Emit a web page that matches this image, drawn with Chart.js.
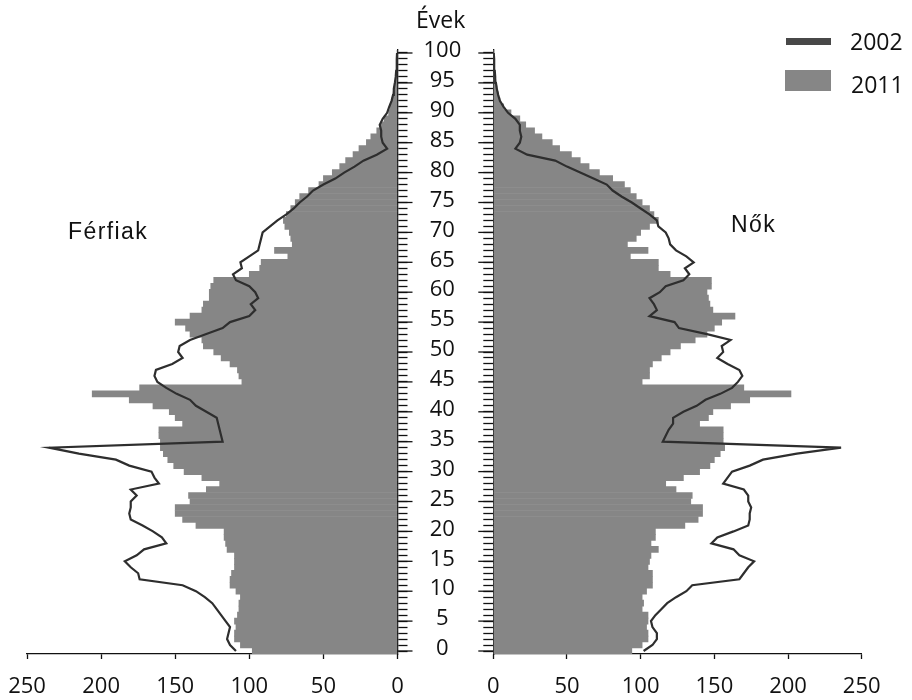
<!DOCTYPE html>
<html>
<head>
<meta charset="utf-8">
<script src="https://cdn.jsdelivr.net/npm/chart.js@4.4.0/dist/chart.umd.min.js"></script>
<style>
  body { margin: 0; background: #fff; }
  #wrap { position: relative; width: 912px; height: 700px; font-family: 'Open Sans', sans-serif; color: #111; }
  canvas { position: absolute; left: 0; top: 0; }
  .txt { position: absolute; font-size: 23px; line-height: 1; white-space: nowrap; }
  .sans { font-family: 'Liberation Sans', Arial, sans-serif; letter-spacing: 1.4px; }
</style>
</head>
<body>
<div id="wrap">
  <canvas id="men" width="912" height="700" style="width:912px;height:700px"></canvas>
  <canvas id="women" width="912" height="700" style="width:912px;height:700px"></canvas>
  <div class="txt" style="left:416px; top:8px;">Évek</div>
  <div class="txt sans" style="left:68px; top:220px;">Férfiak</div>
  <div class="txt sans" style="left:731px; top:213px;">Nők</div>
  <div style="position:absolute; left:786px; top:38px; width:45px; height:7px; background:#484848;"></div>
  <div class="txt" style="left:850px; top:30px;">2002</div>
  <div style="position:absolute; left:785px; top:70px; width:46px; height:21px; background:#868686;"></div>
  <div class="txt" style="left:851px; top:73px;">2011</div>
</div>
<script>
// age groups, bottom to top
const ages = Array.from({ length: 101 }, (_, i) => i);
const ageTicks = [0, 5, 10, 15, 20, 25, 30, 35, 40, 45, 50, 55, 60, 65, 70, 75, 80, 85, 90, 95, 100];
const valueTicks = [0, 50, 100, 150, 200, 250];

// Férfiak (men), 2011 bars
const men2011 = [
  98, 106, 110, 110, 109, 110, 108, 107, 107, 106,
  109, 113, 113, 112, 110, 110, 110, 115, 116, 117,
  117, 136, 145, 150, 150, 140, 141, 129, 120, 132,
  144, 151, 155, 158, 160, 160, 161, 161, 145, 150,
  154, 165, 181, 206, 174, 105, 107, 108, 113, 119,
  124, 131, 132, 140, 143, 150, 140, 132, 131, 127,
  127, 126, 124, 100, 93, 92, 74, 83, 71, 72,
  73, 76, 77, 75, 72, 69, 66, 60, 53, 50,
  44, 39, 35, 30, 26, 21, 18, 14, 11, 9,
  6, 5, 4, 3, 2, 1.5, 1.1, 0.8, 0.5, 0.3,
  0.2
];
// Férfiak (men), 2002 line
const men2002 = [
  109, 113, 115, 114, 113, 116, 119, 122, 125, 130,
  136, 145, 174, 175, 180, 184, 176, 171, 156, 159,
  165, 172, 180, 181, 180, 180, 176, 180, 161, 164,
  166, 181, 190, 215, 235, 118, 119, 120, 121, 122,
  129, 136, 140, 149, 156, 162, 164, 163, 152, 145,
  148, 147, 140, 129, 118, 113, 100, 96, 99, 94,
  96, 100, 109, 111, 105, 106, 100, 94, 93, 92,
  91, 86, 81, 75, 70, 66, 61, 57, 50, 42,
  36, 29, 23, 14, 7, 10, 11, 11, 12, 10,
  7, 5.6, 4, 3, 2.5, 1.8, 1.2, 0.9, 0.6, 0.4,
  0.3
];
// Nők (women), 2011 bars
const women2011 = [
  94, 101, 105, 105, 104, 105, 105, 101, 102, 101,
  104, 108, 108, 108, 105, 106, 107, 112, 107, 110,
  110, 130, 139, 142, 142, 134, 135, 124, 117, 129,
  140, 147, 150, 154, 157, 156, 156, 156, 140, 146,
  149, 161, 174, 202, 170, 101, 106, 106, 108, 114,
  120, 127, 137, 145, 150, 155, 164, 149, 147, 146,
  145, 148, 148, 120, 112, 112, 93, 105, 91, 97,
  100, 106, 112, 109, 106, 101, 97, 93, 89, 81,
  72, 65, 59, 53, 45, 40, 33, 28, 22, 18,
  12, 7, 4.5, 3.5, 2.5, 1.8, 1.2, 0.8, 0.5, 0.3,
  0.2
];
// Nők (women), 2002 line
const women2002 = [
  102, 108, 111, 111, 108, 107, 110, 114, 118, 124,
  131, 135, 167, 170, 173, 177, 167, 163, 148, 152,
  163, 173, 174, 174, 175, 173, 173, 170, 156, 159,
  162, 174, 183, 206, 236, 115, 117, 119, 122, 122,
  129, 138, 144, 154, 162, 166, 169, 167, 159, 152,
  156, 155, 161, 145, 126, 123, 106, 111, 109, 106,
  113, 117, 129, 133, 130, 136, 131, 124, 120, 119,
  117, 112, 111, 106, 100, 94, 87, 81, 77, 68,
  59, 50, 42, 23, 15, 18, 19, 18, 18, 15,
  10, 7, 4.5, 3.3, 2.4, 1.8, 1.3, 1, 0.7, 0.5,
  0.3
];

const BAR = '#868686';
const LINE = '#2e2e2e';

// longer tick marks at every 5 years
const majorTicks = {
  id: 'majorTicks',
  afterDraw(chart, args, opts) {
    const ys = chart.scales.y;
    const ctx = chart.ctx;
    const x0 = opts.side === 'right' ? chart.chartArea.right : chart.chartArea.left;
    const dir = opts.side === 'right' ? 1 : -1;
    ctx.save();
    ctx.strokeStyle = '#111';
    ctx.lineWidth = 1.3;
    ageTicks.forEach(a => {
      const py = ys.getPixelForValue(ages.indexOf(a));
      ctx.beginPath();
      ctx.moveTo(x0, py);
      ctx.lineTo(x0 + dir * 15, py);
      ctx.stroke();
    });
    ctx.restore();
  }
};

function makeChart(id, bars, line, side) {
  const left = side === 'right';
  return new Chart(document.getElementById(id), {
    type: 'bar',
    data: {
      labels: ages,
      datasets: [
        {
          type: 'line',
          label: '2002',
          data: line,
          indexAxis: 'y',
          borderColor: LINE,
          borderWidth: 2.2,
          pointRadius: 0,
          tension: 0,
          order: 0
        },
        {
          type: 'bar',
          label: '2011',
          data: bars,
          backgroundColor: BAR,
          barPercentage: 1,
          categoryPercentage: 1,
          order: 1
        }
      ]
    },
    options: {
      indexAxis: 'y',
      responsive: false,
      animation: false,
      events: [],
      layout: {
        padding: left
          ? { left: 27, right: 444.5, top: 50, bottom: 0 }
          : { left: 483.3, right: 50.3, top: 50, bottom: 0 }
      },
      plugins: {
        legend: { display: false },
        tooltip: { enabled: false },
        majorTicks: { side: left ? 'right' : 'left' }
      },
      scales: {
        x: {
          reverse: left,
          min: 0,
          max: 250,
          afterFit: s => { s.height = 46; },
          afterBuildTicks: s => { s.ticks = valueTicks.map(v => ({ value: v })); },
          border: { display: true, color: '#111', width: 1.3 },
          grid: { drawOnChartArea: false, tickLength: 5, tickColor: '#111', tickWidth: 1.3 },
          ticks: { padding: 15, color: '#111', font: { family: "'Open Sans', sans-serif", size: 22 } }
        },
        y: {
          reverse: true,
          position: left ? 'right' : 'left',
          afterFit: s => { s.width = left ? 70 : 10; },
          border: { display: true, color: '#111', width: 1.3 },
          grid: { drawOnChartArea: false, offset: false, tickLength: 10, tickColor: '#111', tickWidth: 1.3 },
          ticks: {
            display: left,
            autoSkip: false,
            crossAlign: 'center',
            padding: 16,
            labelOffset: -2,
            color: '#111',
            font: { family: "'Open Sans', sans-serif", size: 22 },
            callback: (v, i) => ageTicks.includes(ages[i]) ? String(ages[i]) : ''
          }
        }
      }
    },
    plugins: [majorTicks]
  });
}

makeChart('men', men2011, men2002, 'right');
makeChart('women', women2011, women2002, 'left');
</script>
</body>
</html>
